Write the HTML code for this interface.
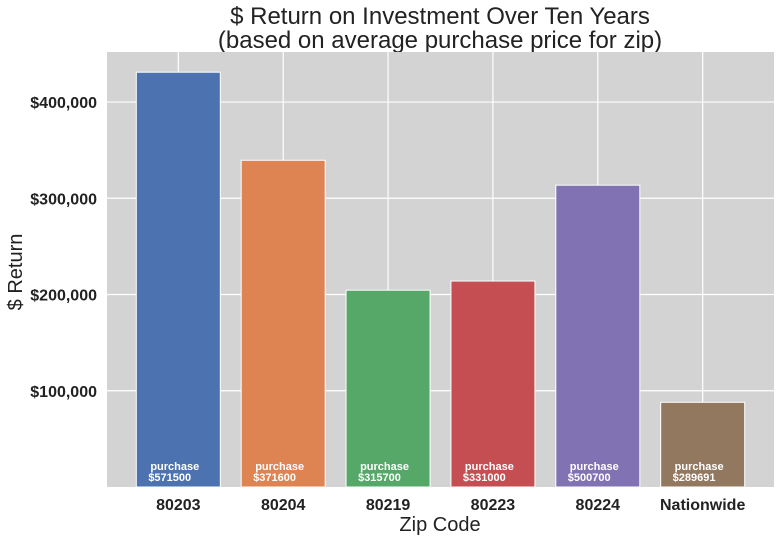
<!DOCTYPE html>
<html><head><meta charset="utf-8"><style>
body{margin:0;background:#fff;width:782px;height:541px;overflow:hidden;font-family:"Liberation Sans","DejaVu Sans",sans-serif}
</style></head><body>
<svg id="chart" width="782" height="541" xmlns="http://www.w3.org/2000/svg" font-family="Liberation Sans, DejaVu Sans, sans-serif">
<text x="440" y="24" font-size="24" text-anchor="middle" fill="#222">$ Return on Investment Over Ten Years</text>
<text x="440" y="48" font-size="24" text-anchor="middle" fill="#222">(based on average purchase price for zip)</text>
<rect x="107" y="52" width="667" height="435" fill="#d3d3d3"/>
<g id="grid"></g><g id="bars"></g><g id="labels"></g>
<text x="440" y="531" font-size="20" text-anchor="middle" fill="#222">Zip Code</text>
<text transform="translate(22,272) rotate(-90)" font-size="20" text-anchor="middle" fill="#222">$ Return</text>
</svg>
<script>
const categories=["80203","80204","80219","80223","80224","Nationwide"];
const returns=[431000,339500,204500,214000,313600,88000];
const purchases=["571500","371600","315700","331000","500700","289691"];
const yTicks=[100000,200000,300000,400000];
const colors=["#4c72b0","#dd8452","#55a868","#c44e52","#8172b3","#937860"];
const NS="http://www.w3.org/2000/svg";
const L=107,R=774,T=52,B=487,yMax=452000;
const xs=i=>L+(i+0.68)*(R-L)/(categories.length-1+1.36);
const ys=v=>B-v/yMax*(B-T);
const bw=84;
function mk(tag,attrs,parent){const e=document.createElementNS(NS,tag);for(const k in attrs)e.setAttribute(k,attrs[k]);document.getElementById(parent).appendChild(e);return e;}
yTicks.forEach(t=>{
 const l=mk('line',{x1:L,x2:R,y1:ys(t),y2:ys(t),stroke:'#fff','stroke-width':1.2},'grid');
 
 
 const tx=mk('text',{x:L-10,y:ys(t)+6,'font-size':16,'font-weight':'bold','text-anchor':'end',fill:'#222'},'labels');
 tx.textContent='$'+t.toLocaleString('en-US');
 
 
});
categories.forEach((c,i)=>{
 const g=mk('line',{x1:xs(i),x2:xs(i),y1:T,y2:B,stroke:'#fff','stroke-width':1.2},'grid');
 
 
 const r=mk('rect',{x:xs(i)-bw/2,y:ys(returns[i]),width:bw,height:B-ys(returns[i]),fill:colors[i],stroke:'#fff','stroke-width':1},'bars');
 
 
 const t1=mk('text',{x:xs(i)-28,y:470,'font-size':11,'font-weight':'bold',fill:'#fff'},'labels');
 t1.textContent='purchase';
 
 
 const t2=mk('text',{x:xs(i)-30,y:481,'font-size':11,'font-weight':'bold',fill:'#fff'},'labels');
 t2.textContent='$'+purchases[i];
 
 
 const xl=mk('text',{x:xs(i),y:510,'font-size':16,'font-weight':'bold','text-anchor':'middle',fill:'#222'},'labels');
 xl.textContent=c;
 
 
});
</script>
</body></html>
